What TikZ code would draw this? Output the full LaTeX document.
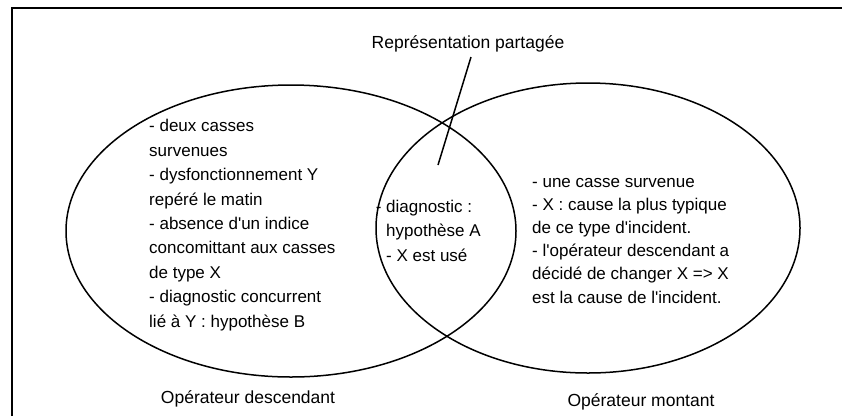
\documentclass[tikz,border=0pt]{standalone}
\usepackage{fontspec}
\setmainfont{Liberation Sans}
\newcommand{\ap}{\textquotesingle}
\begin{document}
\begin{tikzpicture}[x=1pt,y=-1pt,
  txt/.style={inner sep=0pt,anchor=base west,align=left,font=\fontsize{17}{24.4}\selectfont},
  txtr/.style={inner sep=0pt,anchor=base west,align=left,font=\fontsize{17}{23.2}\selectfont},
  lbl/.style={inner sep=0pt,anchor=base,font=\fontsize{17.5}{20}\selectfont},
  venn/.style={draw=black,line width=1.5pt},
  frameline/.style={draw=black,line width=1.5pt}]
\useasboundingbox (0,0) rectangle (842,416);
\coordinate (fbl) at (12,416);
\coordinate (ftl) at (12,8);
\coordinate (ftr) at (842,8);
\draw[frameline] (fbl) -- (ftl) -- (ftr);
\draw[venn] (291,231) ellipse [x radius=225, y radius=146];
\draw[venn] (588,228) ellipse [x radius=212, y radius=145];
\node[lbl] (shared) at (468,48) {Représentation partagée};
\coordinate (ptr) at (438,165);
\draw[line width=1.5pt] (471,57) -- (ptr);
\node[txt] (left) at (149,327) {- deux casses\\survenues\\- dysfonctionnement Y\\repéré le matin\\- absence d\ap un indice\\concomittant aux casses\\de type X\\- diagnostic concurrent\\lié à Y : hypothèse B};
\node[txt] (mid) at (386,261) {\llap{- }diagnostic :\\hypothèse A\\- X est usé};
\node[txtr] (right) at (532,303) {- une casse survenue\\- X : cause la plus typique\\de ce type d\ap incident.\\- l\ap opérateur descendant a\\décidé de changer X => X\\est la cause de l\ap incident.};
\node[lbl] (desc) at (248,403) {Opérateur descendant};
\node[lbl] (mont) at (641,406) {Opérateur montant};
\end{tikzpicture}
\end{document}
